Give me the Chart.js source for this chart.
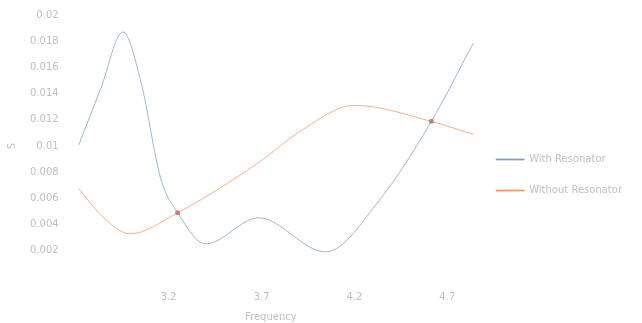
<!DOCTYPE html>
<html>
<head>
<meta charset="utf-8">
<script src="https://cdn.jsdelivr.net/npm/chart.js@4/dist/chart.umd.min.js"></script>
<style>
html,body{margin:0;padding:0;background:#fff;}
#wrap{width:642px;height:323px;}
</style>
</head>
<body>
<div id="wrap"><canvas id="c" width="642" height="323"></canvas></div>
<script>
const seriesNames = ["With Resonator", "Without Resonator"];
const withX = [2.716, 2.834, 2.953, 3.05, 3.157, 3.248, 3.399, 3.684, 4.044, 4.34, 4.614, 4.84];
const withY = [0.0101, 0.0144, 0.0187, 0.0149, 0.0075, 0.0049, 0.00253, 0.00452, 0.00192, 0.00597, 0.01188, 0.01785];
const withoutX = [2.716, 2.834, 2.99, 3.248, 3.69, 3.905, 4.2, 4.614, 4.84];
const withoutY = [0.00674, 0.00474, 0.0033, 0.0049, 0.0088, 0.0111, 0.0131, 0.01188, 0.01088];
const crossX = [3.248, 4.614];
const crossY = [0.0049, 0.01188];
const xTicks = [3.2, 3.7, 4.2, 4.7];
const yTicks = [0.002, 0.004, 0.006, 0.008, 0.01, 0.012, 0.014, 0.016, 0.018, 0.02];

const toPts = (xs, ys) => xs.map((x, i) => ({x: x, y: ys[i]}));
const txt = '#c0c0c0';
const fnt = {family: 'DejaVu Sans', size: 10};
new Chart(document.getElementById('c'), {
  type: 'line',
  data: {
    datasets: [
      {label: seriesNames[0], data: toPts(withX, withY), borderColor: 'rgba(100,130,195,0.6)', backgroundColor: 'rgba(100,130,195,0.6)', borderWidth: 1, pointRadius: 0, cubicInterpolationMode: 'monotone'},
      {label: seriesNames[1], data: toPts(withoutX, withoutY), borderColor: 'rgba(235,125,60,0.6)', backgroundColor: 'rgba(235,125,60,0.6)', borderWidth: 1, pointRadius: 0, cubicInterpolationMode: 'monotone'},
      {label: 'cross', data: toPts(crossX, crossY), showLine: false, pointRadius: 2.5, pointBackgroundColor: 'rgba(190,100,50,0.75)', pointBorderWidth: 0}
    ]
  },
  options: {
    responsive: false,
    animation: false,
    layout: {padding: {left: 2, right: 10, top: 15, bottom: 0}},
    plugins: {
      legend: {
        position: 'right',
        title: {display: true, text: ' ', font: fnt, padding: 0},
        labels: {
          filter: (item) => item.text !== 'cross',
          boxWidth: 28, boxHeight: 1, color: txt, font: fnt, padding: 21
        }
      },
      tooltip: {enabled: false}
    },
    scales: {
      x: {
        type: 'linear', min: 2.65, max: 4.85,
        grid: {display: false}, border: {display: false},
        afterBuildTicks: (a) => { a.ticks = xTicks.map(v => ({value: v})); },
        ticks: {color: txt, font: fnt, padding: 6},
        title: {display: true, text: 'Frequency', color: txt, font: fnt, padding: {top: 2, bottom: 0}}
      },
      y: {
        min: 0, max: 0.02,
        grid: {display: false}, border: {display: false},
        afterBuildTicks: (a) => { a.ticks = yTicks.map(v => ({value: v})); },
        ticks: {color: txt, font: fnt, padding: 0, callback: (v) => String(+v.toFixed(4))},
        title: {display: true, text: 'S', color: txt, font: fnt, padding: {top: 4, bottom: 12}}
      }
    }
  }
});
</script>
</body>
</html>
